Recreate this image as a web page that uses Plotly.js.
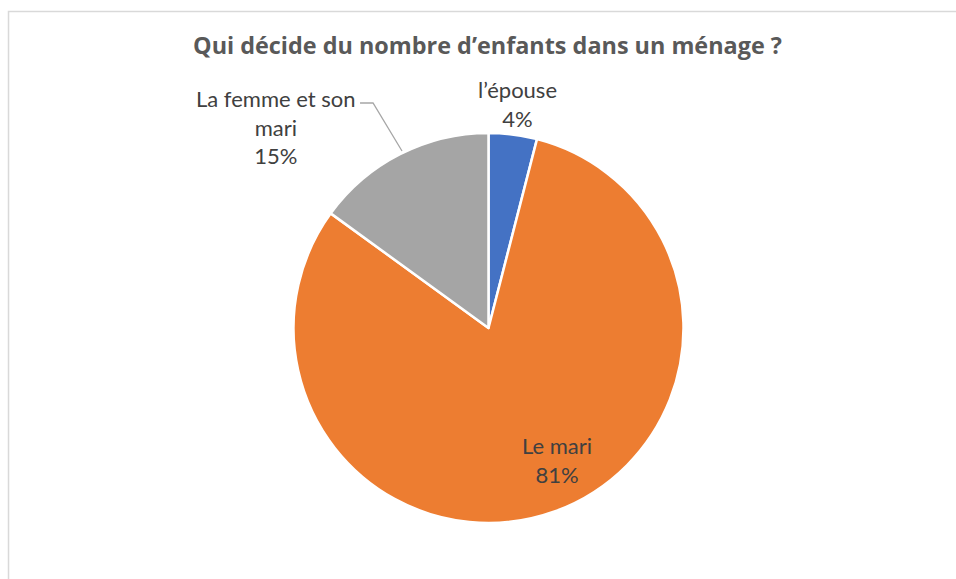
<!DOCTYPE html>
<html>
<head>
<meta charset="utf-8">
<script src="https://cdn.plot.ly/plotly-3.0.1.min.js"></script>
<style>
  html, body { margin: 0; padding: 0; background: #fff; }
  #chart { width: 956px; height: 579px; }
</style>
</head>
<body>
<div id="chart"></div>
<script>
// slices, clockwise from 12 o'clock
const labels = ['l\u2019épouse', 'Le mari', 'La femme et son mari'];
const values = [4, 81, 15];
const colors = ['#4472C4', '#ED7D31', '#A5A5A5'];
// label text as displayed (line breaks like the original)
const labelLines = ['l\u2019épouse', 'Le mari', 'La femme et son<br>mari'];
// label block centres in px (of the 956x579 picture)
const labelPos = [[517, 104], [557, 460], [276, 127]];

const W = 956, H = 579;
const cx = 488.5, cy = 328, r = 195;

const fontFam = 'Lato, "Open Sans", sans-serif';

const trace = {
  type: 'pie',
  labels: labels,
  values: values,
  sort: false,
  direction: 'clockwise',
  rotation: 0,
  marker: { colors: colors, line: { color: '#ffffff', width: 2.5 } },
  textinfo: 'none',
  hoverinfo: 'label+percent',
  showlegend: false,
  domain: {
    x: [(cx - r) / W, (cx + r) / W],
    y: [1 - (cy + r) / H, 1 - (cy - r) / H]
  }
};

const total = values.reduce((a, b) => a + b, 0);
const annotations = labels.map((lab, i) => ({
  xref: 'paper', yref: 'paper',
  x: labelPos[i][0] / W,
  y: 1 - labelPos[i][1] / H,
  xanchor: 'center', yanchor: 'middle',
  showarrow: false,
  align: 'center',
  text: labelLines[i] + '<br>' + Math.round(values[i] / total * 100) + '%',
  font: { family: fontFam, size: 22, color: '#404040' }
}));

// leader line for the grey slice label
const px = (x) => (x / W).toFixed(4);
const py = (y) => (1 - y / H).toFixed(4);
const shapes = [
  {
    type: 'path', xref: 'paper', yref: 'paper',
    path: 'M ' + px(360) + ' ' + py(103) + ' L ' + px(373) + ' ' + py(103) + ' L ' + px(402) + ' ' + py(151),
    line: { color: '#A6A6A6', width: 1.3 }
  },
  // chart frame (cropped at right and bottom)
  {
    type: 'path', xref: 'paper', yref: 'paper',
    path: 'M ' + px(8.5) + ' ' + py(585) + ' L ' + px(8.5) + ' ' + py(11.5) + ' L ' + px(960) + ' ' + py(11.5),
    line: { color: '#D9D9D9', width: 1.5 }
  }
];

const layout = {
  width: W,
  height: H,
  margin: { l: 0, r: 0, t: 0, b: 0 },
  paper_bgcolor: '#ffffff',
  title: {
    text: '<b>Qui décide du nombre d\u2019enfants dans un ménage ?</b>',
    x: 487.5 / W, xanchor: 'center',
    y: 1 - 46 / H, yanchor: 'middle',
    font: { family: '"Open Sans", Lato, sans-serif', size: 23.4, color: '#595959' }
  },
  annotations: annotations,
  shapes: shapes
};

Plotly.newPlot('chart', [trace], layout, { displayModeBar: false, staticPlot: true });
</script>
</body>
</html>
